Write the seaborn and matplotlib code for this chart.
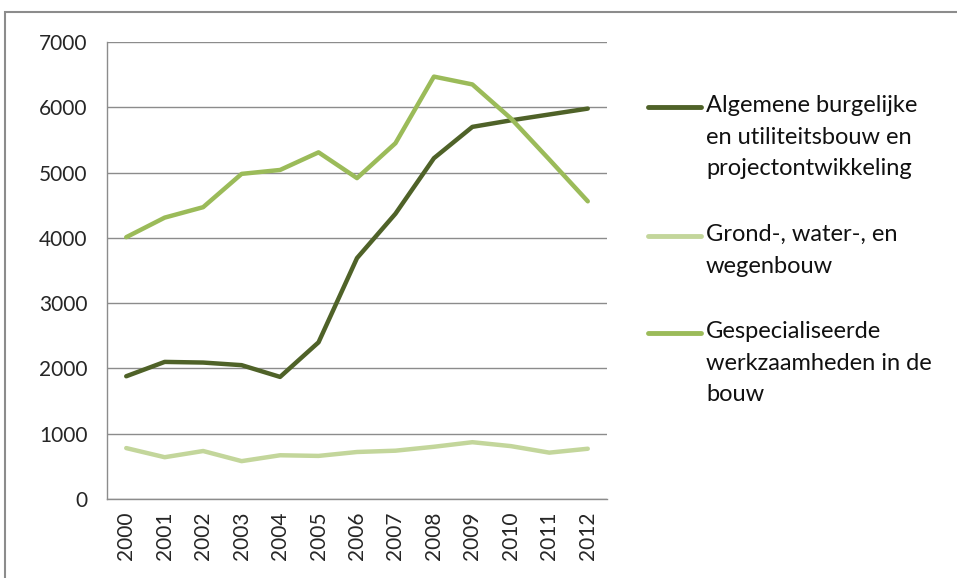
import pandas as pd
import matplotlib.pyplot as plt
import seaborn as sns
from matplotlib.lines import Line2D
from matplotlib.patches import Rectangle

# Data
years = [str(y) for y in range(2000, 2013)]
algemene = [1880, 2100, 2090, 2050, 1870, 2400, 3690, 4370, 5220, 5700, 5800, 5890, 5980]
grond = [780, 640, 735, 580, 670, 660, 720, 740, 800, 870, 810, 710, 770]
gespecialiseerd = [4010, 4310, 4470, 4980, 5040, 5310, 4915, 5450, 6470, 6350, 5830, 5200, 4560]

series_names = [
    "Algemene burgelijke\nen utiliteitsbouw en\nprojectontwikkeling",
    "Grond-, water-, en\nwegenbouw",
    "Gespecialiseerde\nwerkzaamheden in de\nbouw",
]
colors = ["#4F6228", "#C3D69B", "#9BBB59"]

df = pd.DataFrame({"jaar": years, series_names[0]: algemene,
                   series_names[1]: grond, series_names[2]: gespecialiseerd})
long_df = df.melt(id_vars="jaar", var_name="reeks", value_name="waarde")

sns.set_style("white")
plt.rcParams["font.family"] = ["Lato", "DejaVu Sans"]

fig = plt.figure(figsize=(9.57, 5.78), dpi=100)
ax = fig.add_axes([107 / 957, 1 - 499 / 578, 500 / 957, 457 / 578])

sns.lineplot(data=long_df, x="jaar", y="waarde", hue="reeks", palette=colors,
             linewidth=3.2, ax=ax, legend=False, sort=False)

ax.set_xlim(-0.5, 12.5)
ax.set_ylim(0, 7000)
ax.set_yticks(range(0, 7001, 1000))
ax.yaxis.grid(True, color="#8C8C8C", linewidth=1)
ax.set_axisbelow(True)
ax.set_xlabel("")
ax.set_ylabel("")

for side in ["top", "right"]:
    ax.spines[side].set_visible(False)
for side in ["left", "bottom"]:
    ax.spines[side].set_color("#8C8C8C")
    ax.spines[side].set_linewidth(1)

# category ticks sit between the years, like the original
ax.set_xticks(range(13))
ax.set_xticklabels(years, rotation=90, fontsize=15)
ax.tick_params(axis="x", which="major", length=0, pad=9)
ax.set_xticks([i - 0.5 for i in range(14)], minor=True)
ax.tick_params(axis="x", which="minor", length=6, color="#8C8C8C", width=1)
ax.tick_params(axis="y", length=6, color="#8C8C8C", width=1, labelsize=15, pad=8)

# legend, drawn next to the plot with the handle on the first text line
legend_tops = [107, 236, 333]
for name, col, ytop in zip(series_names, colors, legend_tops):
    fy = 1 - ytop / 578
    fig.add_artist(Line2D([648 / 957, 701 / 957], [fy, fy], color=col, linewidth=3.5,
                          solid_capstyle="round"))
    fig.text(706 / 957, fy + 12 / 578, name, fontsize=17, va="top", ha="left",
             linespacing=1.63, color="#111111")

# outer chart frame
fig.add_artist(Rectangle((5 / 957, -0.05), 1.0, 1.05 - 12 / 578,
                         transform=fig.transFigure, fill=False,
                         edgecolor="#8C8C8C", linewidth=1.5))

fig.savefig("out.png", dpi=100)
